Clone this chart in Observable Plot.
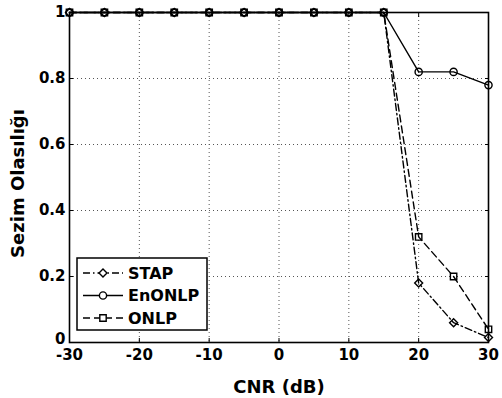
<!DOCTYPE html>
<html>
<head>
<meta charset="utf-8">
<script src="https://cdn.jsdelivr.net/npm/d3@7"></script>
<script src="https://cdn.jsdelivr.net/npm/@observablehq/plot@0.6"></script>
<style>
  html, body { margin: 0; padding: 0; background: #fff; }
  #chart { position: relative; width: 502px; height: 398px; }
</style>
</head>
<body>
<div id="chart"></div>
<script>
const cnr = [-30, -25, -20, -15, -10, -5, 0, 5, 10, 15, 20, 25, 30];
const stap   = [1, 1, 1, 1, 1, 1, 1, 1, 1, 1, 0.18, 0.06, 0.015];
const enonlp = [1, 1, 1, 1, 1, 1, 1, 1, 1, 1, 0.82, 0.82, 0.78];
const onlp   = [1, 1, 1, 1, 1, 1, 1, 1, 1, 1, 0.32, 0.20, 0.04];
const seriesNames = ["STAP", "EnONLP", "ONLP"];
const xTicks = [-30, -20, -10, 0, 10, 20, 30];
const xTickLabels = ["-30", "-20", "-10", "0", "10", "20", "30"];
const yTicks = [0, 0.2, 0.4, 0.6, 0.8, 1];
const yTickLabels = ["0", "0.2", "0.4", "0.6", "0.8", "1"];

const FONT = "'DejaVu Sans', 'Liberation Sans', Arial, sans-serif";
const styles = {
  STAP:   {dash: "7,3,1.5,3", symbol: "diamond2"},
  EnONLP: {dash: null, symbol: "circle"},
  ONLP:   {dash: "7,4", symbol: "square"}
};
const valuesBy = {STAP: stap, EnONLP: enonlp, ONLP: onlp};
const rows = seriesNames.flatMap(s => cnr.map((x, i) => ({series: s, x, y: valuesBy[s][i]})));

const marks = [
  Plot.gridX(xTicks.slice(1, -1), {stroke: "#555", strokeOpacity: 1, strokeWidth: 1, strokeDasharray: "1,3"}),
  Plot.gridY(yTicks.slice(1, -1), {stroke: "#555", strokeOpacity: 1, strokeWidth: 1, strokeDasharray: "1,3"}),
];
for (const s of seriesNames) {
  const data = rows.filter(d => d.series === s);
  marks.push(Plot.line(data, {x: "x", y: "y", stroke: "black", strokeWidth: 1.4, strokeDasharray: styles[s].dash}));
  marks.push(Plot.dot(data, {x: "x", y: "y", symbol: () => styles[s].symbol, r: 3.6, stroke: "black", strokeWidth: 1.4, fill: "none"}));
}
marks.push(
  Plot.axisX(xTicks, {anchor: "bottom", tickSize: 4, dy: -4, text: null, label: null, stroke: "black"}),
  Plot.axisX(xTicks, {anchor: "top", tickSize: 4, dy: 4, text: null, label: null, stroke: "black"}),
  Plot.axisY(yTicks, {anchor: "left", tickSize: 4, dx: 4, text: null, label: null, stroke: "black"}),
  Plot.axisY(yTicks, {anchor: "right", tickSize: 4, dx: -4, text: null, label: null, stroke: "black"}),
  Plot.axisX(xTicks, {anchor: "bottom", tickSize: 0, tickPadding: 7, fontSize: 15, fontWeight: "bold", tickFormat: (d) => xTickLabels[xTicks.indexOf(d)], label: "CNR (dB)", labelAnchor: "center", labelArrow: "none", labelOffset: 50}),
  Plot.axisY(yTicks, {anchor: "left", tickSize: 0, tickPadding: 4, fontSize: 15, fontWeight: "bold", tickFormat: (d) => yTickLabels[yTicks.indexOf(d)], label: "Sezim Olasılığı", labelAnchor: "center", labelArrow: "none", labelOffset: 58}),
  Plot.frame({stroke: "black", strokeWidth: 1.6})
);

const chart = Plot.plot({
  width: 502,
  height: 398,
  marginLeft: 69,
  marginRight: 14,
  marginTop: 12,
  marginBottom: 56,
  x: {domain: [-30, 30]},
  y: {domain: [0, 1]},
  style: {fontFamily: FONT, color: "black", background: "white"},
  marks
});
document.getElementById("chart").appendChild(chart);

// style axis labels
d3.select(chart).selectAll("[aria-label='x-axis label'] text, [aria-label='y-axis label'] text")
  .attr("font-size", 18).attr("font-weight", "bold");
d3.select(chart).selectAll("[aria-label='y-axis label']")
  .attr("transform", function () { return "translate(0,6) " + (this.getAttribute("transform") || ""); });
// nudge the "0" y tick label up slightly so it sits clear of "-30"
d3.select(chart).selectAll("[aria-label='y-axis tick label'] text")
  .filter(function () { return this.textContent === "0"; })
  .attr("transform", function () { return "translate(0,-3) " + (this.getAttribute("transform") || ""); });

// legend (inside the plot, lower-left)
const svg = d3.select(chart);
const lg = svg.append("g").attr("class", "legend").attr("text-anchor", "start");
const lx = 77, ly = 258, lw = 130, lh = 72;
lg.append("rect").attr("x", lx).attr("y", ly).attr("width", lw).attr("height", lh)
  .attr("fill", "white").attr("stroke", "black").attr("stroke-width", 1.5);
const symPaths = {diamond2: d3.symbolDiamond2, circle: d3.symbolCircle, square: d3.symbolSquare};
seriesNames.forEach((s, i) => {
  const cy = ly + 15 + i * 22.5;
  lg.append("line").attr("x1", lx + 6).attr("x2", lx + 46).attr("y1", cy).attr("y2", cy)
    .attr("stroke", "black").attr("stroke-width", 1.4)
    .attr("stroke-dasharray", styles[s].dash);
  lg.append("path").attr("transform", `translate(${lx + 26},${cy})`)
    .attr("d", d3.symbol(symPaths[styles[s].symbol], Math.PI * 3.6 * 3.6)())
    .attr("fill", "white").attr("stroke", "black").attr("stroke-width", 1.4);
  lg.append("text").attr("x", lx + 51).attr("y", cy).attr("dy", "0.36em")
    .attr("text-anchor", "start")
    .attr("font-family", FONT)
    .attr("font-size", 16).attr("font-weight", "bold").attr("fill", "black").text(s);
});
</script>
</body>
</html>
